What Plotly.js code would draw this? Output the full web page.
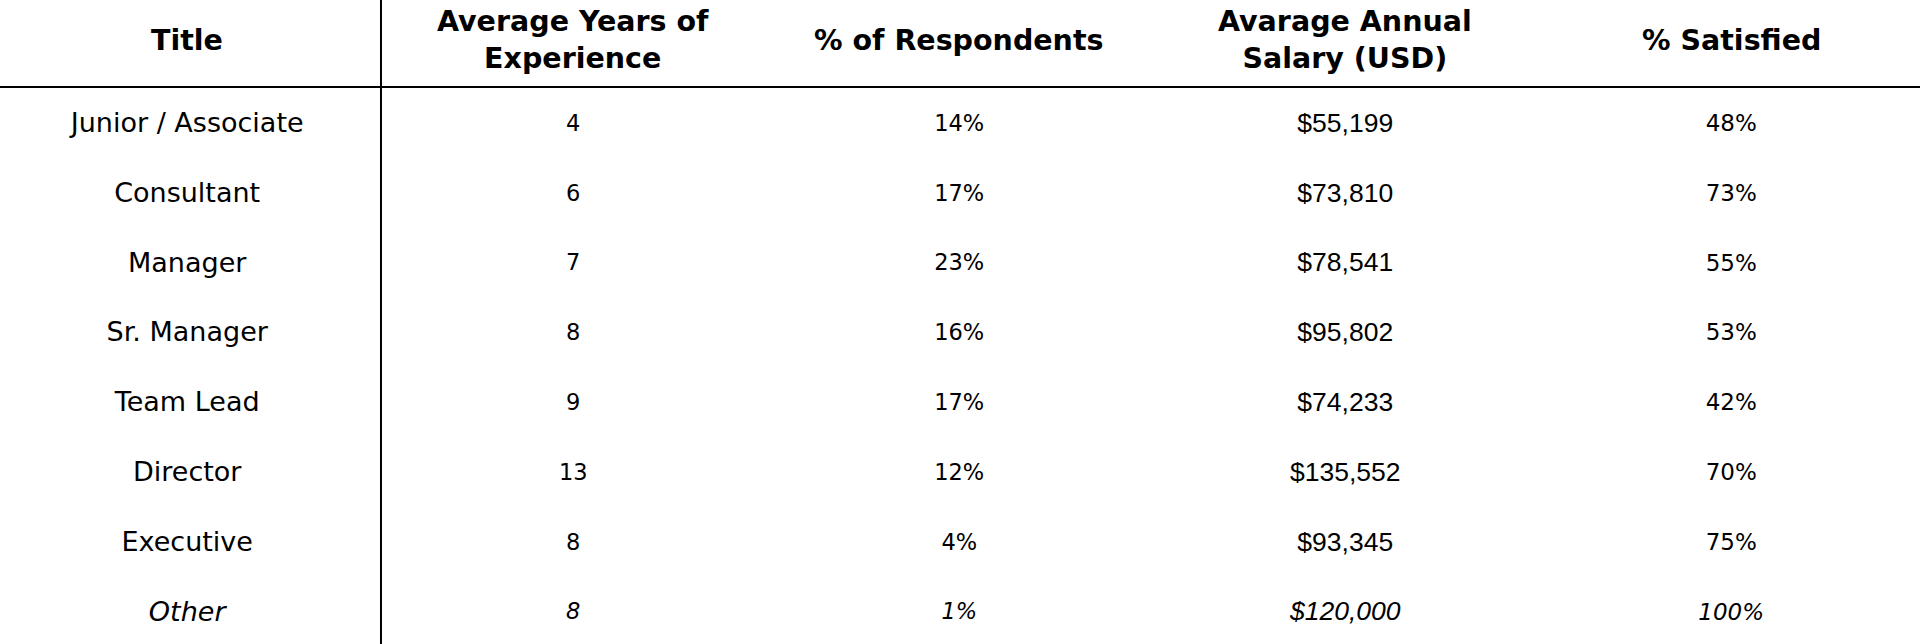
<!DOCTYPE html>
<html>
<head>
<meta charset="utf-8">
<script src="https://cdn.plot.ly/plotly-3.0.1.min.js"></script>
<style>
html, body { margin: 0; padding: 0; background: #ffffff; }
#chart { width: 1920px; height: 644px; }
</style>
</head>
<body>
<div id="chart"></div>
<script>
// ---- data ----
const headers = ["Title", "Average Years of<br>Experience", "% of Respondents", "Avarage Annual<br>Salary (USD)", "% Satisfied"];
const titles = ["Junior / Associate", "Consultant", "Manager", "Sr. Manager", "Team Lead", "Director", "Executive", "Other"];
const avgYears = [4, 6, 7, 8, 9, 13, 8, 8];
const pctRespondents = [14, 17, 23, 16, 17, 12, 4, 1];
const avgSalary = [55199, 73810, 78541, 95802, 74233, 135552, 93345, 120000];
const pctSatisfied = [48, 73, 55, 53, 42, 70, 75, 100];
const italicRow = "Other";

// ---- build ----
const rowIdx = titles.map((_, i) => i + 1);
function fmtItalic(arr) {
  return arr.map((s, i) => titles[i] === italicRow ? "<i>" + s + "</i>" : s);
}
const columns = [
  titles.map(String),
  avgYears.map(String),
  pctRespondents.map(v => v + "%"),
  avgSalary.map(v => "$" + v.toLocaleString("en-US")),
  pctSatisfied.map(v => v + "%")
];
const bodyFont = "DejaVu Sans, sans-serif";
const salaryFont = "Liberation Sans, Arial, sans-serif";
const colFonts = [bodyFont, bodyFont, bodyFont, salaryFont, bodyFont];
const colSizes = [27, 22.5, 22.5, 26.5, 23];

const traces = columns.map((col, c) => ({
  type: "scatter",
  mode: "text",
  x: col.map(() => c),
  y: rowIdx,
  text: fmtItalic(col),
  textposition: "middle center",
  textfont: { family: colFonts[c], size: colSizes[c], color: "#000000" },
  hoverinfo: "skip",
  showlegend: false
}));

const annotations = headers.map((h, c) => ({
  text: "<b>" + h + "</b>",
  xref: "x", x: c,
  yref: "paper", y: 1 - 40 / 644,
  xanchor: "center", yanchor: "middle",
  showarrow: false,
  font: { family: "DejaVu Sans, sans-serif", size: 28.5, color: "#000000" }
}));

const layout = {
  width: 1920, height: 644,
  margin: { l: 0, r: 0, t: 0, b: 0, pad: 0 },
  paper_bgcolor: "#ffffff",
  plot_bgcolor: "#ffffff",
  showlegend: false,
  hovermode: false,
  xaxis: { range: [-0.485, 4.489], visible: false, fixedrange: true },
  yaxis: { range: [8.432, -0.794], visible: false, fixedrange: true },
  annotations: annotations,
  shapes: [
    { type: "line", xref: "paper", yref: "paper", x0: 0, x1: 1, y0: 1 - 87 / 644, y1: 1 - 87 / 644,
      line: { color: "#000000", width: 2 } },
    { type: "line", xref: "x", yref: "paper", x0: 0.502, x1: 0.502, y0: 0, y1: 1,
      line: { color: "#000000", width: 2 } }
  ]
};

Plotly.newPlot("chart", traces, layout, { staticPlot: true, displayModeBar: false });
</script>
</body>
</html>
